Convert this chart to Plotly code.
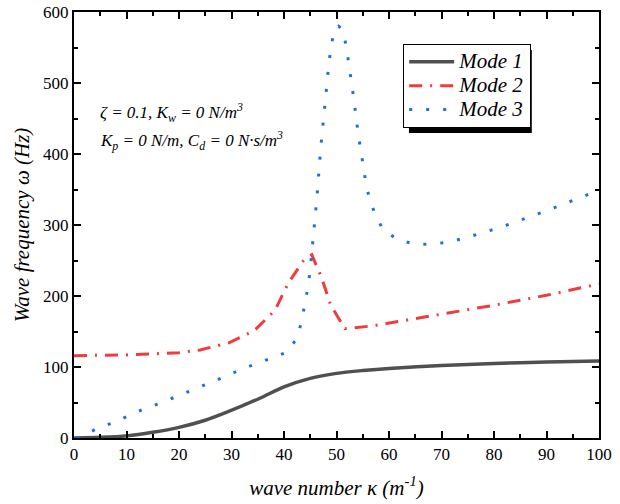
import plotly.graph_objects as go

# Mode 1 (solid gray)
k1 = [0, 5, 10, 15, 20, 25, 29, 35.4, 40, 45, 50, 55, 60, 70, 80, 90, 100]
w1 = [0, 1, 3, 8, 15, 25, 36, 56, 72, 84, 91, 95, 98, 102, 105, 107, 108.5]

# Mode 2 (red dash-dot)
k2 = [0, 10, 20, 24, 29.5, 34.3, 38.3, 40.8, 43.8, 45.3, 47.2, 48.9, 51.6, 57, 61.7, 70, 80, 90, 100]
w2 = [116, 117, 120, 124, 134, 151, 180, 218, 251, 258, 225, 187, 154, 158, 164, 174, 187, 201, 217]

# Mode 3 (blue dotted)
k3 = [0.5, 1.1, 4.3, 7.2, 10.3, 13.3, 16.4, 19.4, 22.5, 25.5, 28.6, 31.6, 34.5, 37.7, 40.6, 42.5,
      43.4, 44, 44.6, 45, 45.3, 45.58, 46.23, 46.99, 47.87, 48.57, 49.01, 49.58, 50.4, 51.18, 51.87,
      52.38, 53.28, 54.1, 55.05, 55.62, 56.38, 57.47, 58.91, 61.71, 65, 68.2, 71.4, 74.7, 77.7, 81, 90, 100]
w3 = [0, 1, 13, 21, 31, 41, 49, 58, 68, 77, 86, 96, 104, 113, 121, 141,
      166, 190, 214, 238, 262, 286, 335, 408, 480, 529, 552, 576, 580, 575, 551,
      527, 479, 430, 382, 358, 334, 313, 293, 279, 273, 273, 276, 282, 289, 296, 320, 349]

series_names = ["Mode 1", "Mode 2", "Mode 3"]
x_ticks = [0, 10, 20, 30, 40, 50, 60, 70, 80, 90, 100]
y_ticks = [0, 100, 200, 300, 400, 500, 600]

FONT = "Liberation Serif, Times New Roman, serif"


def leg(name):
    return '<span style="font-size:21px"><i>' + name + '</i></span>'


fig = go.Figure()
fig.add_trace(go.Scatter(x=k1, y=w1, mode="lines", name=leg(series_names[0]),
                         line=dict(color="#505050", width=3.5, shape="spline", smoothing=0.8)))
fig.add_trace(go.Scatter(x=k2, y=w2, mode="lines", name=leg(series_names[1]),
                         line=dict(color="#f03c3c", width=3, dash="13px,8px,2px,8px")))
fig.add_trace(go.Scatter(x=k3, y=w3, mode="lines", name=leg(series_names[2]),
                         line=dict(color="#1f6fe0", width=3, dash="3px,14px")))

axis_common = dict(showline=True, linecolor="black", linewidth=2, mirror="allticks",
                   ticks="inside", ticklen=7, tickwidth=1.5, tickcolor="black",
                   showgrid=False, zeroline=False, automargin=False,
                   tickfont=dict(family=FONT, size=17, color="black"))

fig.update_xaxes(range=[0, 100], tickvals=x_ticks,
                 minor=dict(ticks="inside", ticklen=4, tickwidth=1.5, tickcolor="black", dtick=5),
                 title=dict(text="<i>wave number κ (m<sup>-1</sup>)</i>",
                            font=dict(family=FONT, size=21, color="black"), standoff=17),
                 **axis_common)
fig.update_yaxes(range=[0, 600], tickvals=y_ticks,
                 minor=dict(ticks="inside", ticklen=4, tickwidth=1.5, tickcolor="black", dtick=50),
                 title=dict(text="<i>Wave frequency ω (Hz)</i>",
                            font=dict(family=FONT, size=21, color="black"), standoff=8),
                 **axis_common)

# legend shadow
fig.add_shape(type="rect", xref="paper", yref="paper",
              x0=0.638, x1=0.872, y0=0.716, y1=0.911,
              fillcolor="black", line=dict(width=0), layer="below")

fig.add_annotation(xref="paper", yref="paper", x=0.045, y=0.764, xanchor="left", yanchor="middle",
                   text="<i>ζ = 0.1, K<sub>w</sub> = 0 N/m<sup>3</sup></i>", showarrow=False,
                   font=dict(family=FONT, size=17, color="black"))
fig.add_annotation(xref="paper", yref="paper", x=0.045, y=0.699, xanchor="left", yanchor="middle",
                   text="<i>K<sub>p</sub> = 0 N/m, C<sub>d</sub> = 0 N·s/m<sup>3</sup></i>", showarrow=False,
                   font=dict(family=FONT, size=17, color="black"))

fig.update_layout(
    width=620, height=504,
    margin=dict(l=74, r=21, t=12, b=66, autoexpand=False),
    plot_bgcolor="white", paper_bgcolor="white",
    legend=dict(x=0.627, y=0.925, xanchor="left", yanchor="top",
                bgcolor="white", bordercolor="black", borderwidth=1,
                font=dict(family=FONT, size=16, color="black"),
                itemwidth=45, tracegroupgap=0),
    showlegend=True,
)

fig.write_html("out.html", config={"displayModeBar": False},
               post_script="document.body.style.margin='0px';")
